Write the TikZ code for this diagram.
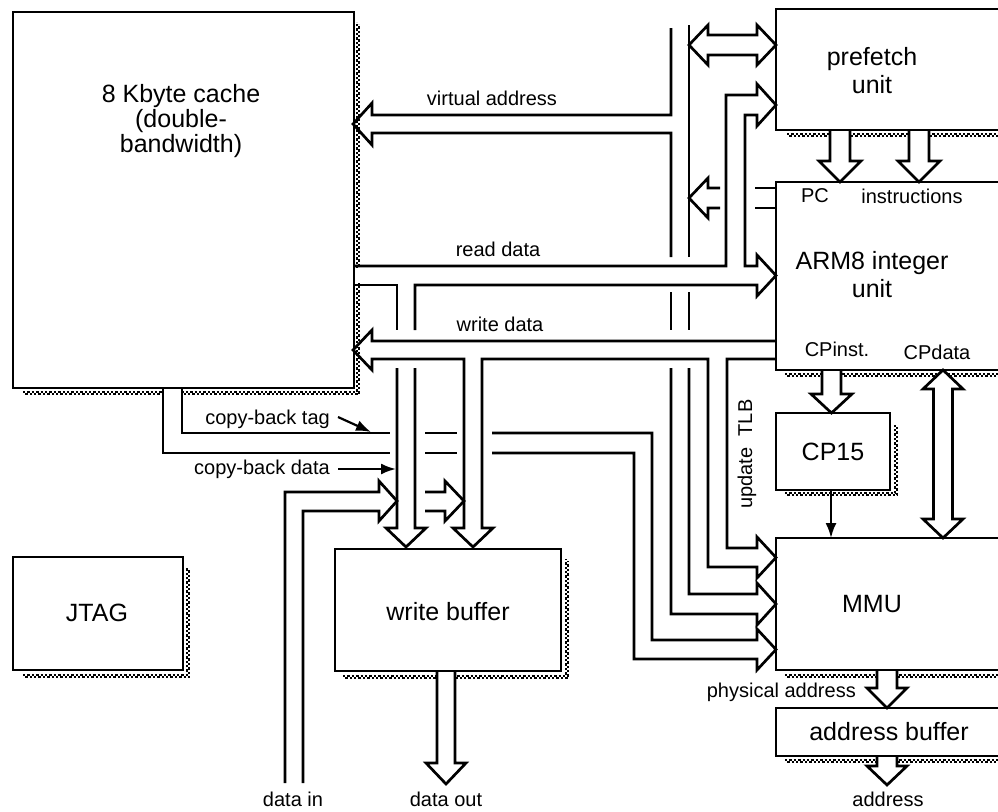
\documentclass[tikz,border=0pt]{standalone}
\usepackage{fontspec}
\setmainfont{Liberation Sans}
\usetikzlibrary{arrows.meta}
\newcommand\shadowL[1]{\draw[sh] #1; \draw[sh,shift={(2.2,2.2)}] #1;}
\begin{document}
\begin{tikzpicture}[x=1pt,y=-1pt,
  bus/.style={line width=2.7pt, line join=miter, line cap=butt},
  hollow/.style={bus, fill=white},
  sh/.style={line width=2.2pt, dash pattern=on 2.4pt off 2pt, black},
  box/.style={draw, line width=2.8pt, inner sep=0pt, outer sep=0pt, anchor=north west},
  big/.style={font=\fontsize{25}{28}\selectfont, align=center, inner sep=0pt},
  small/.style={font=\fontsize{20}{22}\selectfont, inner sep=0pt},
  ptr/.style={line width=2.2pt, -{Latex[length=15pt,width=11pt]}}]
\useasboundingbox (0,0) rectangle (998,811);
\clip (0,0) rectangle (998,811);
% shadows
\shadowL{(23,392) -- (357,392) -- (357,22)}
\shadowL{(787,134) -- (1005,134)}
\shadowL{(785,374) -- (1005,374)}
\shadowL{(785,493) -- (895,493) -- (895,424)}
\shadowL{(785,675) -- (1005,675)}
\shadowL{(785,760) -- (1005,760)}
\shadowL{(23,675) -- (187,675) -- (187,567)}
\shadowL{(343,676) -- (566,676) -- (566,559)}
\fill[white] (164,390) rectangle (181,400);
\fill[white] (355,268) rectangle (364,283);
% hollow arrows over shadows
\filldraw[hollow] (830,130) -- (830,161) -- (819,161) -- (840,182) -- (861,161) -- (850,161) -- (850,130);
\filldraw[hollow] (909,130) -- (909,161) -- (898,161) -- (919,182) -- (940,161) -- (929,161) -- (929,130);
\filldraw[hollow] (822,370) -- (822,394) -- (811,394) -- (831.5,413) -- (852,394) -- (841,394) -- (841,370);
\filldraw[hollow] (943,370) -- (963,389) -- (952.5,389) -- (952.5,519) -- (963,519) -- (943,538) -- (923,519) -- (933.5,519) -- (933.5,389) -- (923,389) -- cycle;
\filldraw[hollow] (877,670) -- (877,688) -- (867,688) -- (887,708) -- (907,688) -- (897,688) -- (897,670);
\filldraw[hollow] (877,756) -- (877,766) -- (867,766) -- (887,785) -- (907,766) -- (897,766) -- (897,756);
\filldraw[hollow] (437,671) -- (437,763) -- (426,763) -- (446,784) -- (466,763) -- (455,763) -- (455,671);
% boxes
\node[box, minimum width=341pt, minimum height=376pt] (cache) at (13,12) {};
\node[box, minimum width=240pt, minimum height=121pt] (pref) at (776,9) {};
\node[box, minimum width=240pt, minimum height=188pt] (arm) at (776,182) {};
\node[box, minimum width=114pt, minimum height=77pt] (cp15) at (776,413) {};
\node[box, minimum width=240pt, minimum height=132pt] (mmu) at (776,538) {};
\node[box, minimum width=240pt, minimum height=48pt] (abuf) at (776,708) {};
\node[box, minimum width=170pt, minimum height=113pt] (jtag) at (13,557) {};
\node[box, minimum width=226pt, minimum height=122pt] (wbuf) at (335,549) {};
% box texts
\node[big, font=\fontsize{25}{25}\selectfont] (tcache) at (181,121) {8 Kbyte cache\\(double-\\bandwidth)};
\node[big] (tpref) at (872,71) {prefetch\\unit};
\node[big] (tarm) at (872,275) {ARM8 integer\\unit};
\node[big] (tcp15) at (833,452) {CP15};
\node[big] (tmmu) at (872,604) {MMU};
\node[big] (tabuf) at (889,732) {address buffer};
\node[big] (tjtag) at (97,613) {JTAG};
\node[big] (twbuf) at (448,612) {write buffer};
% virtual address bus
\draw[bus] (671,28) -- (671,115) -- (372,115) -- (372,103) -- (353,124) -- (372,145) -- (372,133) -- (671,133) -- (671,257);
\draw[bus] (671,292) -- (671,330);
\draw[bus] (689,292) -- (689,330);
\draw[bus] (671,368) -- (671,614) -- (757,614) -- (757,625) -- (776,604) -- (757,583) -- (757,594) -- (689,594) -- (689,368);
\draw[bus] (689,257) -- (689,25);
% prefetch <-> bus
\draw[bus] (689,45) -- (708,25) -- (708,35) -- (757,35) -- (757,25) -- (776,45) -- (757,65) -- (757,55) -- (708,55) -- (708,65) -- cycle;
% ARM8 -> bus
\draw[bus] (720,188) -- (708,188) -- (708,178) -- (689,198) -- (708,218) -- (708,208) -- (720,208);
\draw[bus] (755,188) -- (776,188);
\draw[bus] (755,208) -- (776,208);
% read data
\draw[bus] (353,266) -- (726,266) -- (726,95) -- (757,95) -- (757,84) -- (776,105) -- (757,126) -- (757,115) -- (745,115) -- (745,266) -- (757,266) -- (757,255) -- (776,275.5) -- (757,296) -- (757,285) -- (415,285) -- (415,330);
\draw[bus] (353,285) -- (397,285) -- (397,330);
\draw[bus] (397,368) -- (397,528) -- (386,528) -- (406,547) -- (426,528) -- (415,528) -- (415,368);
% write data
\draw[bus] (776,341) -- (372,341) -- (372,330) -- (353,350) -- (372,370) -- (372,359) -- (464,359) -- (464,528) -- (453,528) -- (473,547) -- (493,528) -- (482,528) -- (482,359) -- (708,359) -- (708,567) -- (757,567) -- (757,578) -- (776,557.5) -- (757,537) -- (757,548) -- (727,548) -- (727,359) -- (776,359);
% copy-back
\draw[bus] (182,388) -- (182,433) -- (390,433);
\draw[bus] (163,388) -- (163,453) -- (390,453);
\draw[bus] (425,433) -- (457,433);
\draw[bus] (425,453) -- (457,453);
\draw[bus] (492,433) -- (652,433) -- (652,640) -- (757,640) -- (757,629) -- (776,649.5) -- (757,670) -- (757,659) -- (634,659) -- (634,453) -- (492,453);
% data in
\draw[bus] (285,783) -- (285,492) -- (379,492) -- (379,481) -- (397,501) -- (379,521) -- (379,511) -- (303,511) -- (303,783);
\draw[bus] (425,492) -- (445,492) -- (445,481) -- (464,501) -- (445,521) -- (445,511) -- (425,511);
% pointers
\draw[ptr] (338,417) -- (371,432);
\draw[ptr] (338,469) -- (396,469);
\draw[ptr] (cp15.south -| 831,0) -- (mmu.north -| 831,0);
% labels
\node[small] (lva) at (492,98) {virtual address};
\node[small] (lrd) at (498,249) {read data};
\node[small] (lwd) at (500,324) {write data};
\node[small, anchor=east] (lcbt) at (330,419) {copy-back tag};
\node[small, anchor=east] (lcbd) at (330,469) {copy-back data};
\node[small] (ldin) at (293,799) {data in};
\node[small] (ldout) at (446,799) {data out};
\node[small] (laddr) at (888,799) {address};
\node[small, anchor=east] (lphys) at (856,692) {physical address};
\node[small] (lcpi) at (837,349) {CPinst.};
\node[small] (lcpd) at (937,352) {CPdata};
\node[small] (lpc) at (815,196) {PC};
\node[small] (linstr) at (912,196) {instructions};
\node[small, rotate=90] (ltlb) at (747,454) {update\ \ TLB};
\end{tikzpicture}
\end{document}
